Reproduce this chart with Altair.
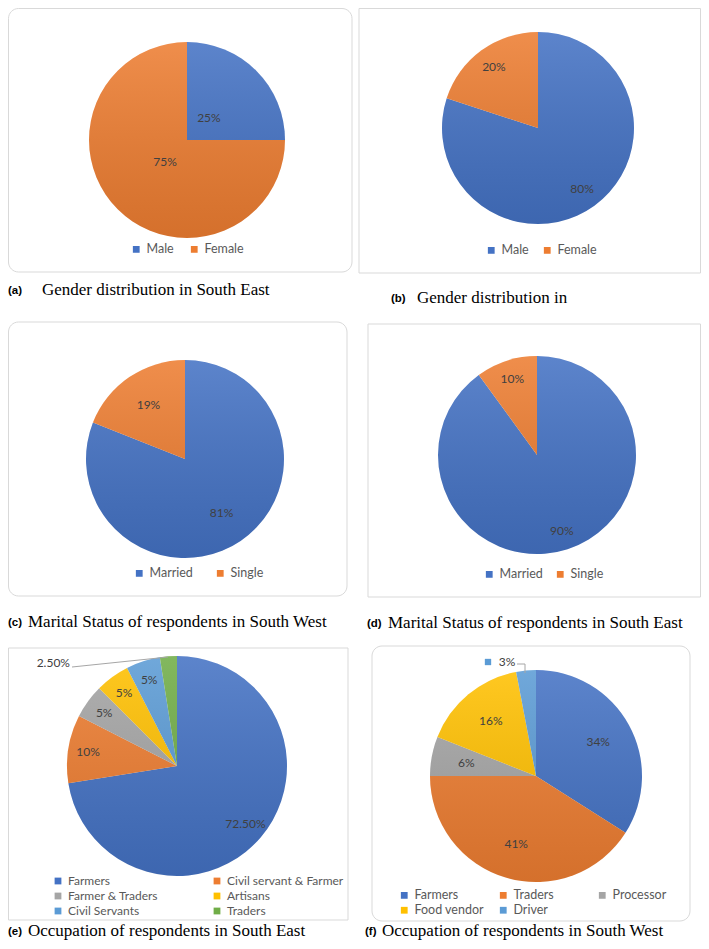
import math
import altair as alt
import pandas as pd

# ---------------- data ----------------
gender_cats = ["Male", "Female"]
gender_south_east = [25, 75]
gender_b = [80, 20]
marital_cats = ["Married", "Single"]
marital_south_west = [81, 19]
marital_south_east = [90, 10]
occ_se_cats = ["Farmers", "Civil servant & Farmer", "Farmer & Traders",
               "Artisans", "Civil Servants", "Traders"]
occ_se_vals = [72.5, 10, 5, 5, 5, 2.5]
occ_sw_cats = ["Farmers", "Traders", "Processor", "Food vendor", "Driver"]
occ_sw_vals = [34, 41, 6, 16, 3]

tags = ["(a)", "(b)", "(c)", "(d)", "(e)", "(f)"]
captions = [
    "Gender distribution in South East",
    "Gender distribution in",
    "Marital Status of respondents in South West",
    "Marital Status of respondents in South East",
    "Occupation of respondents in South East",
    "Occupation of respondents in South West",
]

BLUE, ORANGE, GRAY, GOLD, LBLUE, GREEN = (
    "#4472C4", "#ED7D31", "#A5A5A5", "#FFC000", "#5B9BD5", "#70AD47")

W, H = 693, 933
FONT = "Lato"


def fmt(v):
    return f"{v:.2f}%" if v != int(v) else f"{int(v)}%"


def frame(cats, vals):
    return pd.DataFrame({
        "cat": cats,
        "value": vals,
        "idx": list(range(len(cats))),
        "label": [fmt(v) for v in vals],
    })


one = pd.DataFrame({"k": [0]})

shade = alt.LinearGradient(
    gradient="linear",
    stops=[alt.GradientStop(color="rgba(255,255,255,0.13)", offset=0),
           alt.GradientStop(color="rgba(0,0,0,0.10)", offset=1)],
    x1=0, x2=0, y1=0, y2=1,
)


def pie(cats, vals, colors, cx, cy, r, label_r, legend, skip_last_label=False):
    df = frame(cats, vals)
    base = alt.Chart(df)
    theta = alt.Theta("value:Q", stack=True)
    arcs = base.mark_arc(radius=r, stroke=None).encode(
        theta=theta,
        color=alt.Color("cat:N", sort=None,
                        scale=alt.Scale(domain=cats, range=colors),
                        legend=legend),
        order=alt.Order("idx:Q"),
        x=alt.value(cx), y=alt.value(cy),
    )
    text_base = base
    if skip_last_label:
        text_base = base.transform_filter(alt.datum.idx < len(cats) - 1)
    labels = text_base.mark_text(radius=label_r, font=FONT, fontSize=12,
                                 color="#404040", align="center",
                                 baseline="middle").encode(
        theta=theta,
        detail="cat:N",
        order=alt.Order("idx:Q"),
        text="label:N",
        x=alt.value(cx), y=alt.value(cy),
    )
    overlay = alt.Chart(one).mark_arc(
        radius=r, theta=0, theta2=2 * math.pi, fill=shade
    ).encode(x=alt.value(cx), y=alt.value(cy))
    return alt.layer(arcs, overlay, labels)


def leg(x, y, pad, columns=None, grid="each", size=12.5, rowpad=3):
    kw = dict(orient="none", legendX=x, legendY=y, direction="horizontal",
              title=None, symbolType="square", symbolSize=46,
              symbolStrokeWidth=0, labelFont=FONT, labelFontSize=size,
              labelColor="#595959", columnPadding=pad, rowPadding=rowpad,
              padding=0, labelLimit=0, gridAlign=grid, labelOffset=4)
    if columns:
        kw["columns"] = columns
    return alt.Legend(**kw)


def box(x1, y1, x2, y2, rounded):
    return alt.Chart(one).mark_rect(
        fill="white", stroke="#d9d9d9", strokeWidth=1,
        cornerRadius=10 if rounded else 0,
    ).encode(x=alt.value(x1), x2=alt.value(x2), y=alt.value(y1), y2=alt.value(y2))


def caption(i, tx, mx, y):
    t = alt.Chart(one).mark_text(
        font="Liberation Sans", fontWeight="bold", fontSize=11.5,
        align="left", baseline="middle", color="#000000",
    ).encode(x=alt.value(tx), y=alt.value(y + 1), text=alt.value(tags[i]))
    m = alt.Chart(one).mark_text(
        font="Liberation Serif", fontSize=17, align="left",
        baseline="middle", color="#000000",
    ).encode(x=alt.value(mx), y=alt.value(y), text=alt.value(captions[i]))
    return [t, m]


boxes = [
    box(0.5, 0.5, 344, 264, True),
    box(351, 0.5, 692.5, 265, False),
    box(0.5, 314, 339, 588, True),
    box(360, 316, 692.5, 589, False),
    box(0.5, 640, 340, 912, False),
    box(364, 638, 682, 913, True),
]

pies = [
    pie(gender_cats, gender_south_east, [BLUE, ORANGE], 179, 132, 98, 31,
        leg(122, 235, 14)),
    pie(gender_cats, gender_b, [BLUE, ORANGE], 530, 120, 96, 75,
        leg(477, 236, 12)),
    pie(marital_cats, marital_south_west, [BLUE, ORANGE], 177, 451, 99, 65,
        leg(125, 559, 21)),
    pie(marital_cats, marital_south_east, [BLUE, ORANGE], 529, 447, 99, 80,
        leg(475, 560, 11)),
    pie(occ_se_cats, occ_se_vals, [BLUE, ORANGE, GRAY, GOLD, LBLUE, GREEN],
        169, 758, 110, 90,
        leg(44, 867, 26, columns=2, grid="all", size=12, rowpad=3),
        skip_last_label=True),
    pie(occ_sw_cats, occ_sw_vals, [BLUE, ORANGE, GRAY, GOLD, LBLUE],
        528, 768, 106, 71,
        leg(390, 881, 13, columns=3, grid="all", size=12.5, rowpad=2),
        skip_last_label=True),
]

# outside labels with leader lines
lead_color = "#a6a6a6"
extras = [
    alt.Chart(one).mark_rule(color=lead_color, strokeWidth=1).encode(
        x=alt.value(64), y=alt.value(659), x2=alt.value(160), y2=alt.value(649)),
    alt.Chart(one).mark_text(font=FONT, fontSize=12, color="#404040",
                             align="right", baseline="middle").encode(
        x=alt.value(62), y=alt.value(655), text=alt.value(fmt(occ_se_vals[-1]))),
    alt.Chart(one).mark_rule(color=lead_color, strokeWidth=1).encode(
        x=alt.value(509), y=alt.value(656), x2=alt.value(517), y2=alt.value(656)),
    alt.Chart(one).mark_rule(color=lead_color, strokeWidth=1).encode(
        x=alt.value(517), y=alt.value(656), x2=alt.value(517), y2=alt.value(665)),
    alt.Chart(one).mark_square(size=40, color=LBLUE, opacity=1).encode(
        x=alt.value(480), y=alt.value(654)),
    alt.Chart(one).mark_text(font=FONT, fontSize=12, color="#404040",
                             align="center", baseline="middle").encode(
        x=alt.value(499), y=alt.value(654), text=alt.value(fmt(occ_sw_vals[-1]))),
]

caps = []
caps += caption(0, 0, 34, 282)
caps += caption(1, 383, 409, 290)
caps += caption(2, 0, 20, 614)
caps += caption(3, 359, 380, 615)
caps += caption(4, 0, 20, 923)
caps += caption(5, 357, 374, 923)

chart = alt.layer(*boxes, *pies, *extras, *caps).resolve_scale(
    theta="independent", color="independent"
).properties(
    width=W, height=H, padding=0, autosize="none", background="white"
).configure_view(stroke=None)

chart.save("out.html", embed_options={"renderer": "svg", "actions": False})
